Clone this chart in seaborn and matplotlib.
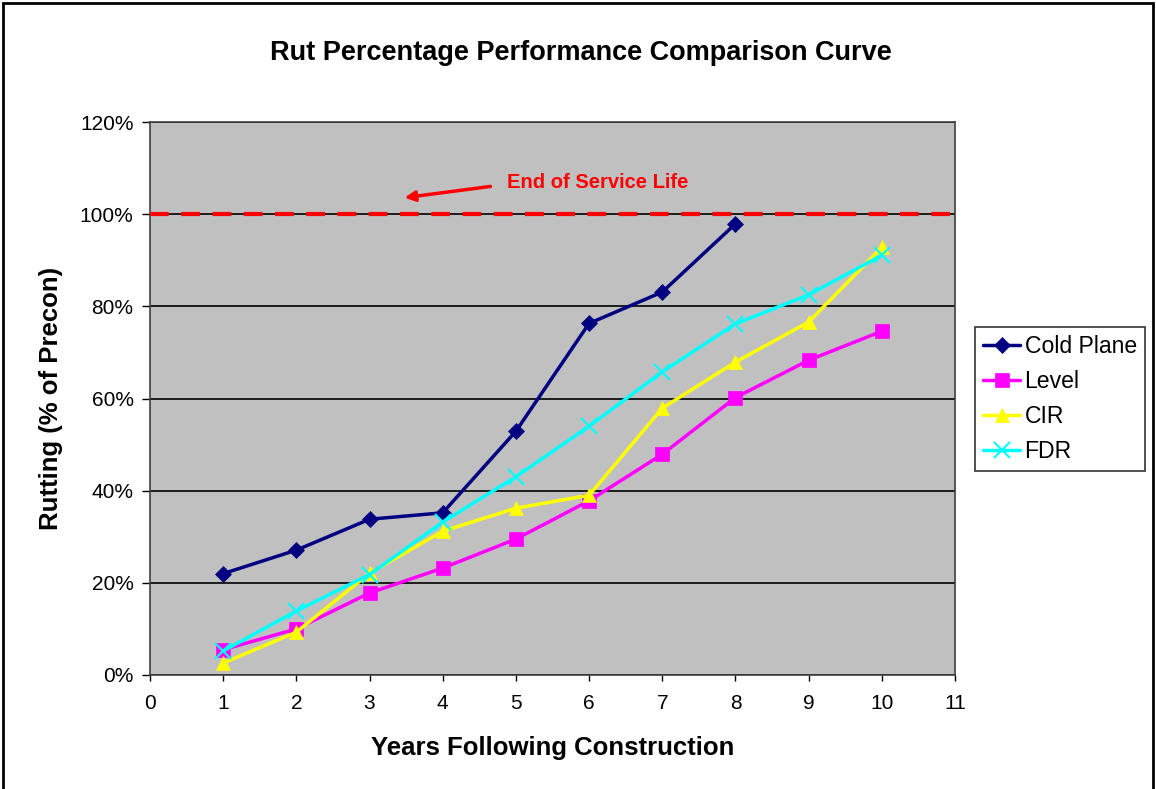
import matplotlib
matplotlib.use("Agg")
import matplotlib.pyplot as plt
import matplotlib.patches as mpatches
from matplotlib.ticker import FuncFormatter
import seaborn as sns
import pandas as pd

years = [1, 2, 3, 4, 5, 6, 7, 8, 9, 10]
cold_plane = [22.0, 27.1, 33.8, 35.2, 52.9, 76.3, 83.1, 97.9]
level = [5.5, 10.0, 17.8, 23.2, 29.5, 37.8, 47.9, 60.2, 68.3, 74.6]
cir = [2.6, 9.3, 22.1, 31.2, 36.2, 39.0, 57.9, 67.9, 76.6, 92.8]
fdr = [5.2, 13.9, 21.8, 33.2, 43.0, 54.0, 65.8, 76.2, 82.5, 91.1]
series_names = ["Cold Plane", "Level", "CIR", "FDR"]
x_ticks = list(range(0, 12))
y_ticks = [0, 20, 40, 60, 80, 100, 120]
service_life = 100

rows = []
for name, vals in zip(series_names, [cold_plane, level, cir, fdr]):
    for yr, v in zip(years, vals):
        rows.append({"Year": yr, "Rut": v, "Series": name})
df = pd.DataFrame(rows)

sns.set_theme(style="white")
plt.rcParams["font.family"] = ["Liberation Sans", "DejaVu Sans"]
plt.rcParams["text.color"] = "black"
plt.rcParams["axes.labelcolor"] = "black"
plt.rcParams["xtick.color"] = "black"
plt.rcParams["ytick.color"] = "black"

fig = plt.figure(figsize=(11.56, 7.89), dpi=100)
ax = fig.add_axes([150/1156, 1-675/789, 805/1156, 553/789])
ax.set_facecolor("#C0C0C0")

colors = {"Cold Plane": "#000080", "Level": "#FF00FF", "CIR": "#FFFF00", "FDR": "#00FFFF"}
markers = {"Cold Plane": "D", "Level": "s", "CIR": "^", "FDR": "x"}
msizes = {"Cold Plane": 8, "Level": 10, "CIR": 10, "FDR": 11}

ax.set_yticks(y_ticks)
ax.yaxis.grid(True, color="black", linewidth=1.2)
ax.set_axisbelow(True)

ax.axhline(service_life, color="red", linewidth=3, linestyle=(0, (4.5, 3)), zorder=3)

for name in series_names:
    sub = df[df["Series"] == name]
    sns.lineplot(data=sub, x="Year", y="Rut", ax=ax, color=colors[name],
                 marker=markers[name], markersize=msizes[name],
                 markeredgecolor=colors[name], markeredgewidth=1.5 if name == "FDR" else 0.5,
                 linewidth=2.5, label=name, zorder=4)

ax.set_xlim(0, 11)
ax.set_ylim(0, 120)
ax.set_xticks(x_ticks)
ax.yaxis.set_major_formatter(FuncFormatter(lambda v, p: f"{int(v)}%"))
ax.tick_params(axis="both", labelsize=15, colors="black", direction="out", width=1, left=True, bottom=True)
ax.tick_params(axis="x", length=4.5, pad=9)
ax.tick_params(axis="y", length=5.8, pad=6)
for s in ax.spines.values():
    s.set_color("#404040")
    s.set_linewidth(1.2)

ax.set_xlabel("Years Following Construction", fontsize=18.5, fontweight="bold", labelpad=17)
ax.set_ylabel("Rutting (% of Precon)", fontsize=18.5, fontweight="bold", labelpad=12)
fig.text(581/1156, 1-53/789, "Rut Percentage Performance Comparison Curve",
         ha="center", va="center", fontsize=19.5, fontweight="bold")

ax.annotate("", xy=(3.44, 103.5), xytext=(4.69, 106.1),
            arrowprops=dict(arrowstyle="-|>", color="red", lw=2.5, mutation_scale=15), zorder=5)
ax.text(4.88, 106.9, "End of Service Life", color="red", fontsize=14.5, fontweight="bold",
        ha="left", va="center", zorder=5)

leg = ax.legend(loc="upper left", bbox_to_anchor=(975/1156, 1-327/789), bbox_transform=fig.transFigure,
                fontsize=16.6, frameon=True, fancybox=False, edgecolor="black", facecolor="white",
                borderpad=0.35, labelspacing=0.52, handlelength=1.6, handletextpad=0.2, borderaxespad=0)
leg.get_frame().set_linewidth(1.2)

fig.patches.append(mpatches.Rectangle((3/1156, -0.01), 1150/1156, 1.01 - 3/789,
                                      transform=fig.transFigure, fill=False,
                                      edgecolor="black", linewidth=2))

fig.savefig("out.png", dpi=100)
